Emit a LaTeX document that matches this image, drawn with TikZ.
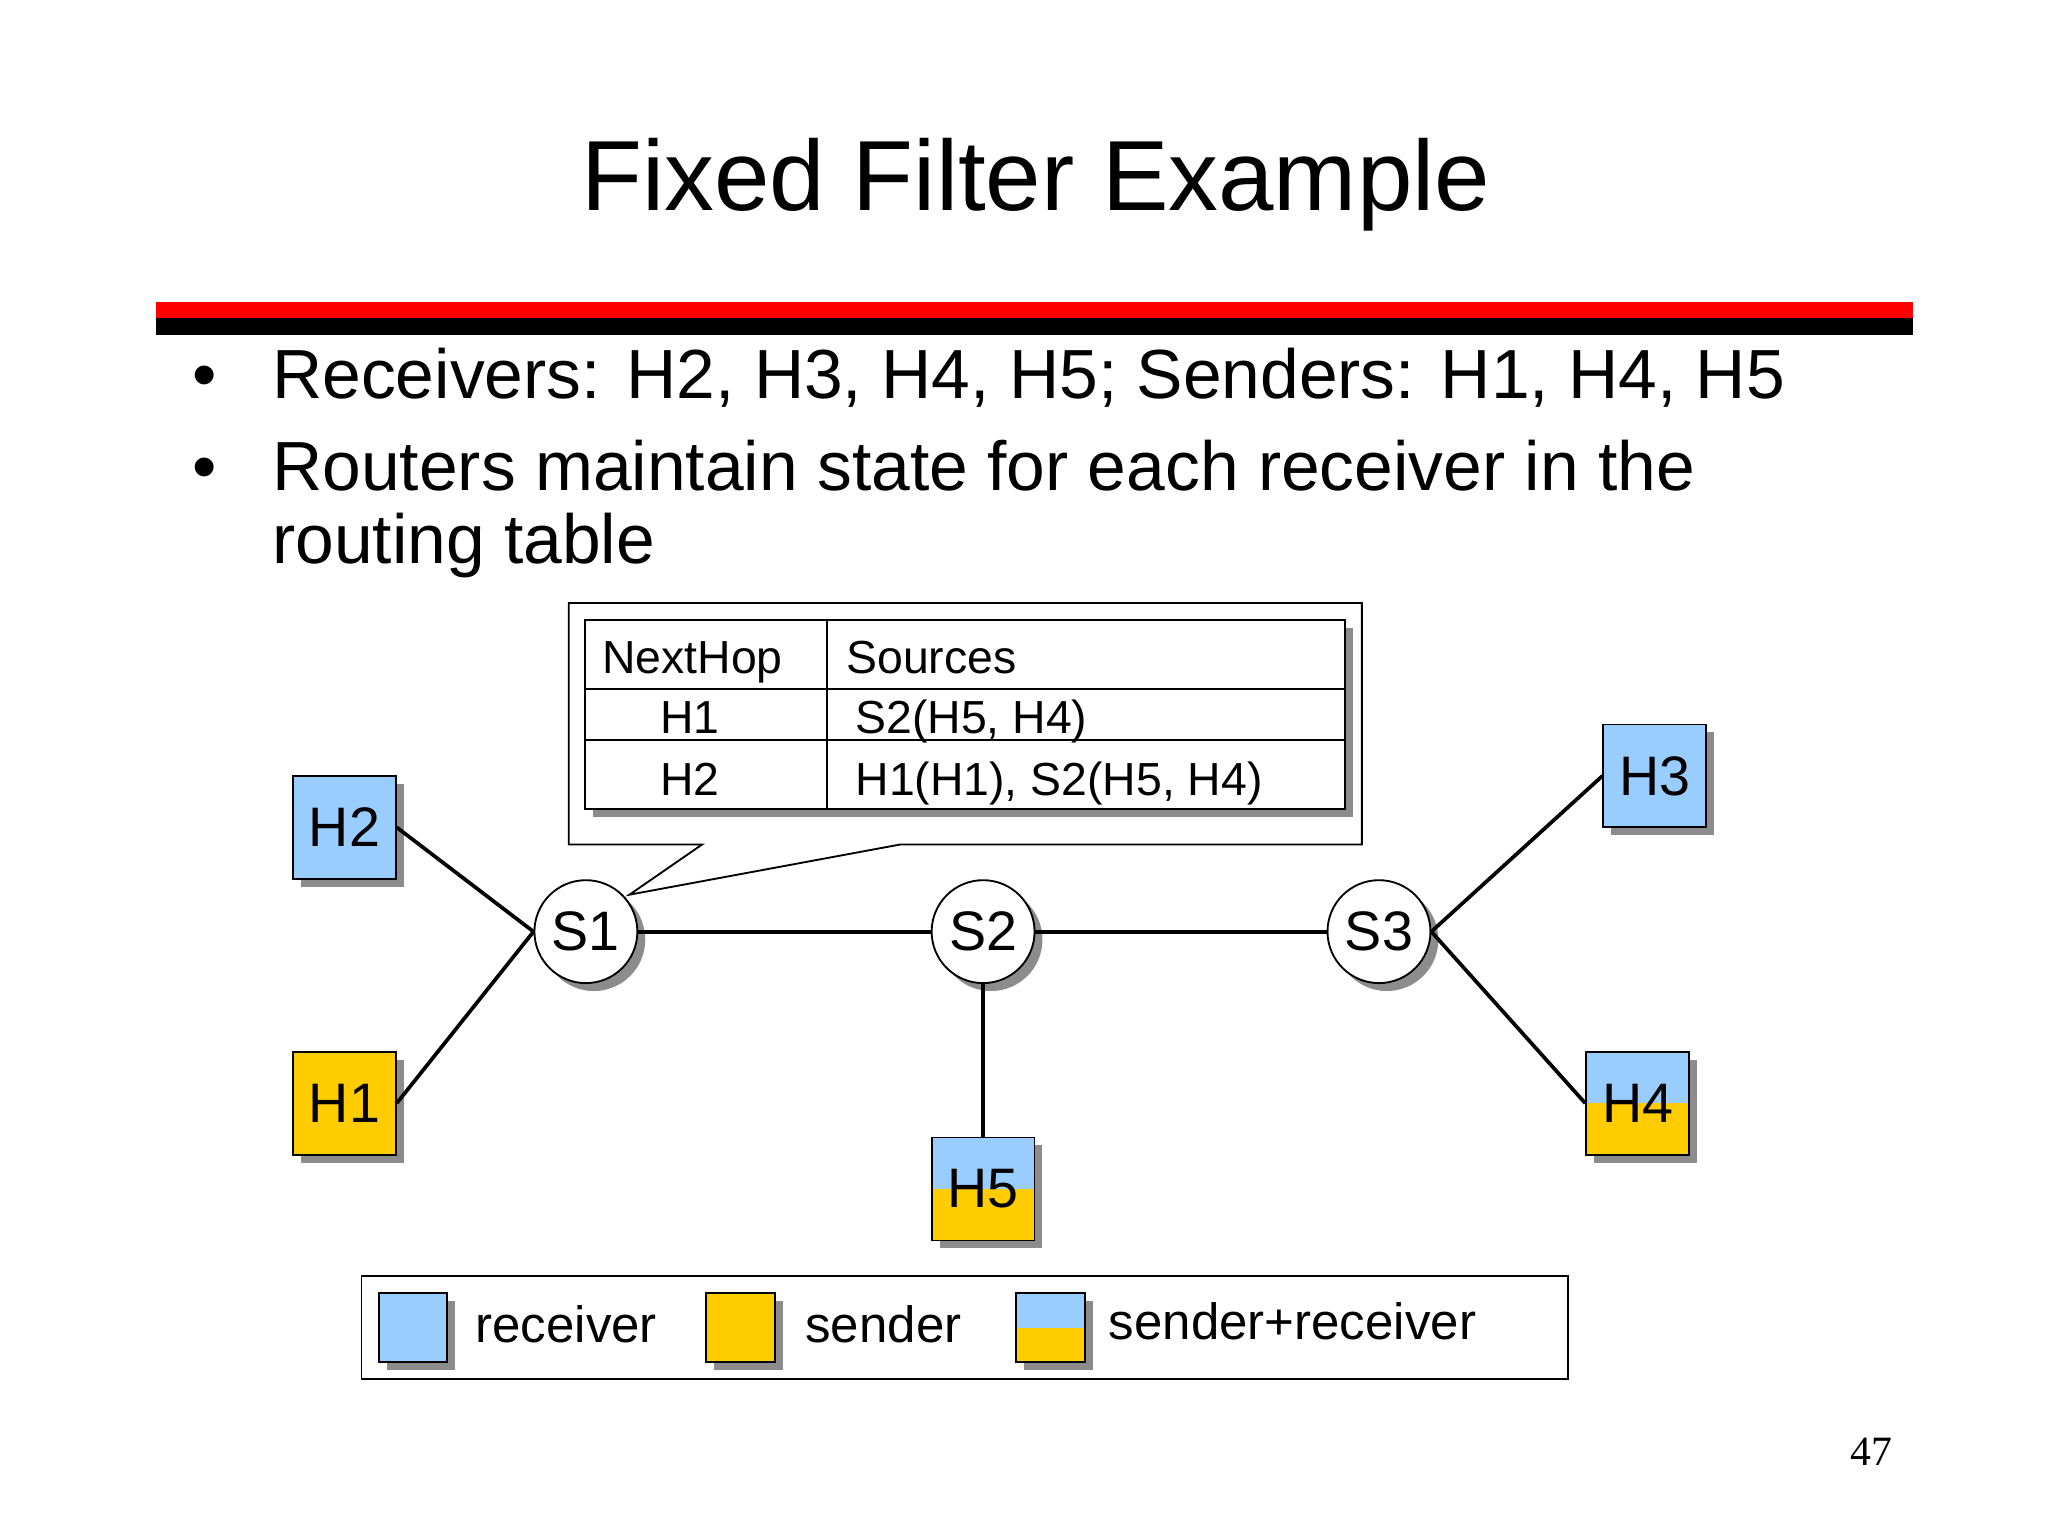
\documentclass[tikz,border=0pt]{standalone}
\usepackage{fontspec}
\setmainfont{Liberation Sans}
\newfontfamily\serifpn{Liberation Serif}
\begin{document}
\begin{tikzpicture}[x=0.02cm,y=-0.02cm,
  shad/.style={fill=black!45},
  host/.style={draw=black,line width=0.8pt,minimum size=78*0.02cm,inner sep=0pt,font=\fontsize{24}{26}\selectfont},
  sw/.style={circle,draw=black,line width=0.8pt,fill=white,minimum size=78*0.02cm,inner sep=0pt,font=\fontsize{24}{26}\selectfont},
  link/.style={line width=1.6pt},
  tbl/.style={font=\fontsize{20}{22}\selectfont,anchor=base west}]
\definecolor{rblue}{HTML}{99CCFF}
\definecolor{syel}{HTML}{FFCC00}
\useasboundingbox (0,0) rectangle (1552,1164);
\fill[white] (0,0) rectangle (1552,1164);
% title
\node[font=\fontsize{43}{46}\selectfont] (title) at (785,140) {Fixed Filter Example};
\fill[red] (118,229) rectangle (1450,241);
\fill[black] (118,241) rectangle (1450,254);
% bullets
\node[font=\fontsize{30}{32}\selectfont,anchor=base] (b1) at (155,302) {\textbullet};
\node[font=\fontsize{30}{32}\selectfont,anchor=base west,inner sep=0pt] (t1) at (206,302) {Receivers: H2, H3, H4, H5; Senders: H1, H4, H5};
\node[font=\fontsize{30}{32}\selectfont,anchor=base] (b2) at (155,372) {\textbullet};
\node[font=\fontsize{30}{32}\selectfont,anchor=base west,inner sep=0pt] (t2) at (206,372) {Routers maintain state for each receiver in the};
\node[font=\fontsize{30}{32}\selectfont,anchor=base west,inner sep=0pt] (t3) at (206,427) {routing table};
% callout
\draw[line width=0.8pt,fill=white] (431,457) -- (1032,457) -- (1032,640) -- (682,640) -- (477,678) -- (532,640) -- (431,640) -- cycle;
\fill[shad] (449,476) rectangle (1025,619);
\draw[line width=0.8pt,fill=white] (443,470) rectangle (1019,613);
\draw[line width=0.8pt] (627,470) -- (627,613) (443,522) -- (1019,522) (443,561) -- (1019,561);
\node[tbl,inner sep=0pt] at (456,510) {NextHop};
\node[tbl,inner sep=0pt] at (641,510) {Sources};
\node[tbl,inner sep=0pt] at (500,556) {H1};
\node[tbl,inner sep=0pt] at (648,556) {S2(H5, H4)};
\node[tbl,inner sep=0pt] at (500,603) {H2};
\node[tbl,inner sep=0pt] at (648,603) {H1(H1), S2(H5, H4)};
% shadows
\foreach \x/\y in {222/588,222/797,1215/549,1202/797,706/862}
  \fill[shad] (\x+6,\y+6) rectangle (\x+84,\y+84);
\foreach \x in {444,745,1045}
  \fill[shad] (\x+6,712) circle (39);
% links
\node[sw] (S1) at (444,706) {S1};
\node[sw] (S2) at (745,706) {S2};
\node[sw] (S3) at (1045,706) {S3};
\node[host,fill=rblue] (H2) at (261,627) {H2};
\node[host,fill=syel] (H1) at (261,836) {H1};
\node[host,fill=rblue] (H3) at (1254,588) {H3};
\fill[rblue] (1202,797) rectangle (1280,836);
\fill[syel] (1202,836) rectangle (1280,875);
\node[host] (H4) at (1241,836) {H4};
\fill[rblue] (706,862) rectangle (784,901);
\fill[syel] (706,901) rectangle (784,940);
\node[host] (H5) at (745,901) {H5};
\draw[link] (H2.east) -- (S1.west);
\draw[link] (H1.east) -- (S1.west);
\draw[link] (S1) -- (S2);
\draw[link] (S2) -- (S3);
\draw[link] (S2) -- (H5);
\draw[link] (S3.east) -- (H3.west);
\draw[link] (S3.east) -- (H4.west);
% legend
\draw[line width=0.8pt] (274,967) rectangle (1188,1045);
\fill[shad] (293,986) rectangle (345,1038);
\draw[line width=0.8pt,fill=rblue] (287,980) rectangle (339,1032);
\fill[shad] (541,986) rectangle (593,1038);
\draw[line width=0.8pt,fill=syel] (535,980) rectangle (587,1032);
\fill[shad] (776,986) rectangle (828,1038);
\fill[rblue] (770,980) rectangle (822,1006);
\fill[syel] (770,1006) rectangle (822,1032);
\draw[line width=0.8pt] (770,980) rectangle (822,1032);
\node[font=\fontsize{22}{24}\selectfont,anchor=base west,inner sep=0pt] at (360,1017) {receiver};
\node[font=\fontsize{22}{24}\selectfont,anchor=base west,inner sep=0pt] at (610,1017) {sender};
\node[font=\fontsize{22}{24}\selectfont,anchor=base west,inner sep=0pt] at (840,1015) {sender+receiver};
\node[font=\serifpn\fontsize{18}{20}\selectfont] (pn) at (1418,1100) {47};
\end{tikzpicture}
\end{document}
